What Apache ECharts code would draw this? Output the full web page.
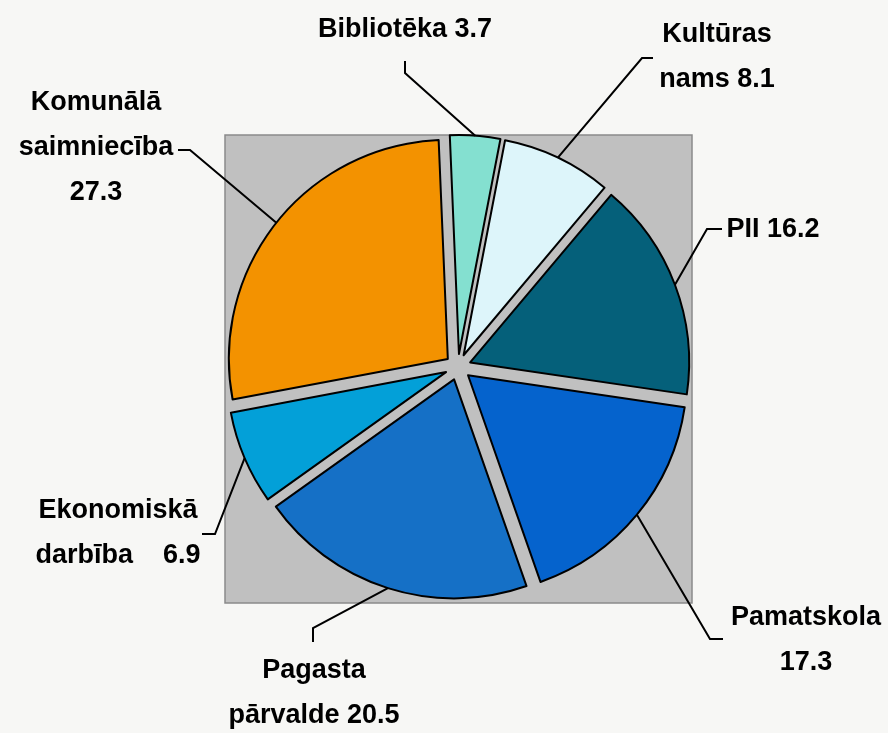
<!DOCTYPE html>
<html>
<head>
<meta charset="utf-8">
<script src="https://cdn.jsdelivr.net/npm/echarts@6/dist/echarts.min.js"></script>
<style>
html, body { margin: 0; padding: 0; background: #f7f7f5; }
#main { width: 888px; height: 733px; }
</style>
</head>
<body>
<div id="main"></div>
<script>
// dati
const categories = ['Bibliotēka', 'Kultūras nams', 'PII', 'Pamatskola', 'Pagasta pārvalde', 'Ekonomiskā darbība', 'Komunālā saimniecība'];
const values = [3.7, 8.1, 16.2, 17.3, 20.5, 6.9, 27.3];
const colors = ['#84e0d0', '#ddf5fa', '#05607a', '#0563cd', '#1570c6', '#03a0d8', '#f39200'];
// kā teksts tiek lauzts rindās
const labelText = ['Bibliotēka {v}', 'Kultūras\nnams {v}', 'PII {v}', 'Pamatskola\n{v}', 'Pagasta\npārvalde {v}', 'Ekonomiskā\ndarbība    {v}', 'Komunālā\nsaimniecība\n{v}'];

// etiķešu novietojums (teksta centrs) un līnijas lūzuma/gala punkti
const labelPos = [[405, 30], [717, 57], [773, 230], [806, 640], [314, 693], [118, 533], [96, 148]];
const guideMid = [[405, 73], [642, 58], [707, 229], [710, 639], [313, 628], [215, 534], [190, 150]];
const guideEnd = [[405, 61], [653, 58], [722, 229], [723, 639], [313, 642], [202, 534], [178, 150]];

const center = [458, 367];
const radius = 219;
const explode = 13;
const startAngle = 92.4;

const chart = echarts.init(document.getElementById('main'), null, { renderer: 'canvas' });

chart.setOption({
    backgroundColor: '#f7f7f5',
    animation: false,
    graphic: [{
        type: 'rect',
        z: 0,
        shape: { x: 225, y: 135, width: 467, height: 468 },
        style: { fill: '#c0c0c0', stroke: '#8a8a8a', lineWidth: 1.5 }
    }],
    series: [{
        // sektori, visi izbīdīti
        type: 'pie',
        z: 5,
        center: center,
        radius: radius,
        startAngle: startAngle,
        clockwise: true,
        selectedMode: 'multiple',
        selectedOffset: explode,
        emphasis: { disabled: true },
        itemStyle: { borderColor: '#000', borderWidth: 2 },
        select: { itemStyle: { borderColor: '#000', borderWidth: 2 } },
        label: { show: false },
        labelLine: { show: false },
        data: categories.map((name, i) => ({
            name: name,
            value: values[i],
            selected: true,
            itemStyle: { color: colors[i] }
        }))
    }, {
        // tikai etiķetes, rādiuss = izbīdītā sektora mala
        type: 'pie',
        z: 6,
        silent: true,
        center: center,
        radius: radius + explode,
        startAngle: startAngle,
        clockwise: true,
        avoidLabelOverlap: false,
        emphasis: { disabled: true },
        itemStyle: { color: 'rgba(0,0,0,0)', borderWidth: 0 },
        label: {
            show: true,
            position: 'outside',
            color: '#000',
            fontFamily: '"Liberation Sans", Arial, sans-serif',
            fontWeight: 'bold',
            fontSize: 27,
            lineHeight: 45,
            align: 'center',
            formatter: p => labelText[p.dataIndex].replace('{v}', p.value.toFixed(1))
        },
        labelLine: {
            show: true,
            length: 10,
            length2: 10,
            lineStyle: { color: '#000', width: 2 }
        },
        labelLayout: function (params) {
            const i = params.dataIndex;
            const pts = params.labelLinePoints;
            return {
                x: labelPos[i][0],
                y: labelPos[i][1],
                align: 'center',
                verticalAlign: 'middle',
                labelLinePoints: [pts[0], guideMid[i], guideEnd[i]]
            };
        },
        data: categories.map((name, i) => ({ name: name, value: values[i] }))
    }]
});
</script>
</body>
</html>
